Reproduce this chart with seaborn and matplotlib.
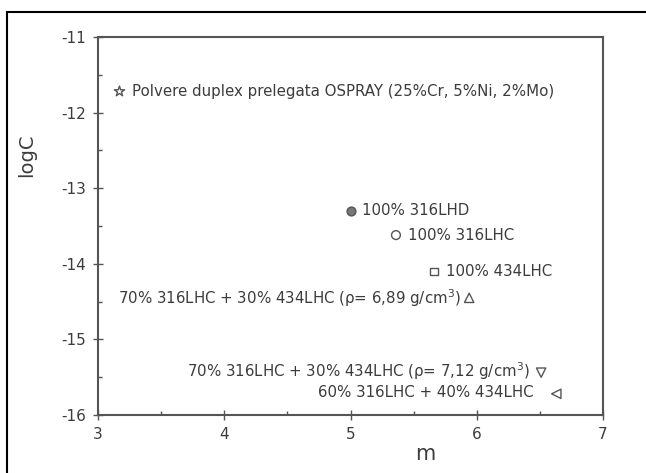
import matplotlib
matplotlib.use("Agg")
import matplotlib.pyplot as plt
import matplotlib.patches as mpatches
import seaborn as sns
import pandas as pd

# ---- data ----
labels = [
    "Polvere duplex prelegata OSPRAY (25%Cr, 5%Ni, 2%Mo)",
    "100% 316LHD",
    "100% 316LHC",
    "100% 434LHC",
    "70% 316LHC + 30% 434LHC (\u03c1= 6,89 g/cm$^3$)",
    "70% 316LHC + 30% 434LHC (\u03c1= 7,12 g/cm$^3$)",
    "60% 316LHC + 40% 434LHC",
]
m_values = [3.17, 5.00, 5.36, 5.66, 5.94, 6.51, 6.63]
logC_values = [-11.72, -13.30, -13.62, -14.10, -14.45, -15.44, -15.72]

x_ticks = [3, 4, 5, 6, 7]
y_ticks = [-16, -15, -14, -13, -12, -11]

df = pd.DataFrame({"m": m_values, "logC": logC_values, "label": labels})

# ---- style / layout ----
sns.set_theme(style="ticks")
plt.rcParams["font.family"] = ["DejaVu Sans"]
plt.rcParams["axes.unicode_minus"] = False
txt_col = "#3c3c3c"
ax_col = "#555555"

markers = ["*", "o", "o", "s", "^", "v", "<"]
filled = [False, True, False, False, False, False, False]
msizes = [60, 40, 40, 30, 45, 45, 45]
offsets = [(9, 0), (8, 0), (9, 0), (9, 0), (-6, 0), (-8, 1), (-16, 1)]
align = ["left", "left", "left", "left", "right", "right", "right"]

fig = plt.figure(figsize=(6.46, 4.73), dpi=100)
ax = fig.add_axes([98 / 646, 1 - 415 / 473, (603 - 98) / 646, (415 - 37) / 473])

for i in range(len(df)):
    sub = df.iloc[[i]]
    sns.scatterplot(
        data=sub, x="m", y="logC", marker=markers[i], s=msizes[i],
        facecolor=("#777777" if filled[i] else "none"),
        edgecolor=ax_col, linewidth=1.0, ax=ax, legend=False,
    )
    ax.annotate(
        sub["label"].iloc[0], (sub["m"].iloc[0], sub["logC"].iloc[0]),
        xytext=offsets[i], textcoords="offset points",
        ha=align[i], va="center", fontsize=10.8, color=txt_col,
    )

ax.set_xlim(3, 7)
ax.set_ylim(-16, -11)
ax.set_xticks(x_ticks)
ax.set_yticks(y_ticks)
ax.set_xticks([3.5, 4.5, 5.5, 6.5], minor=True)
ax.set_yticks([-15.5, -14.5, -13.5, -12.5, -11.5], minor=True)
ax.tick_params(which="major", direction="inout", length=7, width=1.0,
               colors=ax_col, labelcolor=txt_col, labelsize=11, pad=5)
ax.tick_params(which="minor", direction="in", length=3, width=1.0, colors=ax_col)
ax.tick_params(top=False, right=False, which="both")

for sp in ax.spines.values():
    sp.set_color(ax_col)
    sp.set_linewidth(1.5)
    sp.set_visible(True)

ax.set_xlabel("m", fontsize=15, color=txt_col)
ax.set_ylabel("logC", fontsize=14, color=txt_col)
ax.xaxis.set_label_coords((425 - 98) / 505, -(444 - 415) / 378)
ax.yaxis.set_label_coords((36 - 98) / 505, (415 - 155) / 378)

# outer figure frame (top & left visible)
fig.add_artist(mpatches.Rectangle(
    (7 / 646, -0.2), 1.2, (473 - 12) / 473 + 0.2,
    transform=fig.transFigure, fill=False, edgecolor="black",
    linewidth=1.5, clip_on=False))

fig.savefig("out.png", dpi=100)
